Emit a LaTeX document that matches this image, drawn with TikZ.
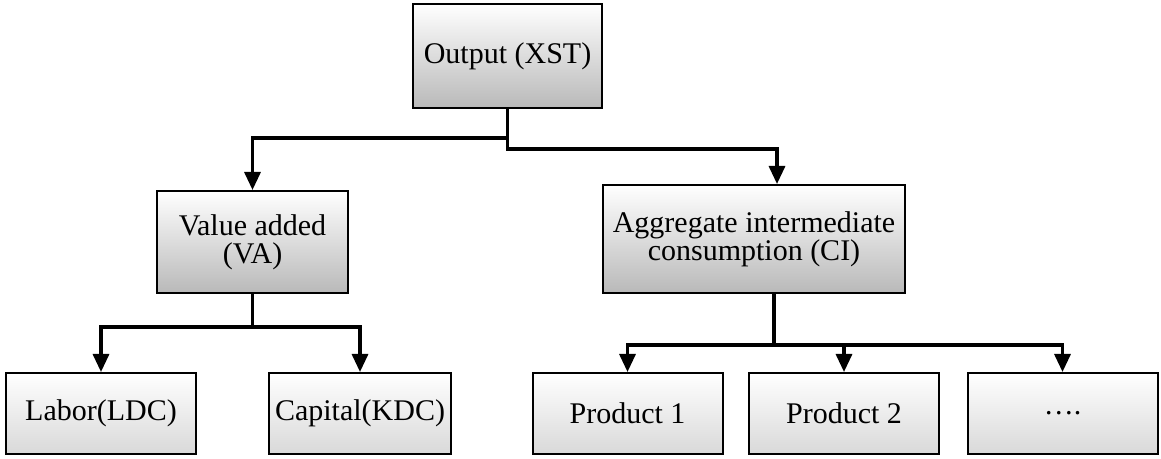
\documentclass[tikz,border=0pt]{standalone}
\usepackage{fontspec}
\setmainfont{Liberation Serif}
\usetikzlibrary{arrows.meta}

\begin{document}
\begin{tikzpicture}[x=0.5pt, y=-0.5pt,
    topbox/.style={draw, line width=1pt, align=center, inner sep=0pt,
        top color=white, bottom color=gray!55,
        font=\fontsize{15}{14}\selectfont},
    leafbox/.style={draw, line width=1pt, align=center, inner sep=0pt,
        minimum width=95pt, minimum height=40.5pt,
        top color=white, middle color=white, bottom color=gray!30,
        font=\fontsize{15}{14}\selectfont},
    link/.style={line width=1.6pt, -{Triangle[length=9pt, width=8pt]}}]
    \useasboundingbox (0,0) rectangle (1161,459);

    \node[topbox, minimum width=94.5pt, minimum height=52pt] (out) at (507.5,56) {Output (XST)};
    \node[topbox, minimum width=95.5pt, minimum height=51pt] (va) at (252.5,242) {Value added\\(VA)};
    \node[topbox, minimum width=151pt, minimum height=54pt] (ci) at (754,239) {Aggregate intermediate\\consumption (CI)};

    \node[leafbox] (ldc) at (101,413.5) {Labor(LDC)};
    \node[leafbox, minimum width=91pt] (kdc) at (360,413.5) {Capital(KDC)};
    \node[leafbox] (p1) at (627.5,413.5) {Product 1};
    \node[leafbox] (p2) at (844,413.5) {Product 2};
    \node[leafbox] (pn) at (1062.5,413.5) {\dots.};

    % output splits in two
    \draw[link] (out.south) -- (out.south |- 0,138) -| (va.north);
    \draw[link] (out.south) |- (777,149) -- ([xshift=11.5pt]ci.north);

    % value added
    \draw[link] (va.south) |- (101,327) -- (ldc.north);
    \draw[link] (va.south) |- (360,327) -- (kdc.north);

    % intermediate consumption
    \coordinate (cj) at (774,345);
    \draw[line width=1.6pt] ([xshift=10pt]ci.south) -- (cj);
    \foreach \n in {p1, p2, pn}
        \draw[link] (cj) -| (\n.north);
\end{tikzpicture}
\end{document}
